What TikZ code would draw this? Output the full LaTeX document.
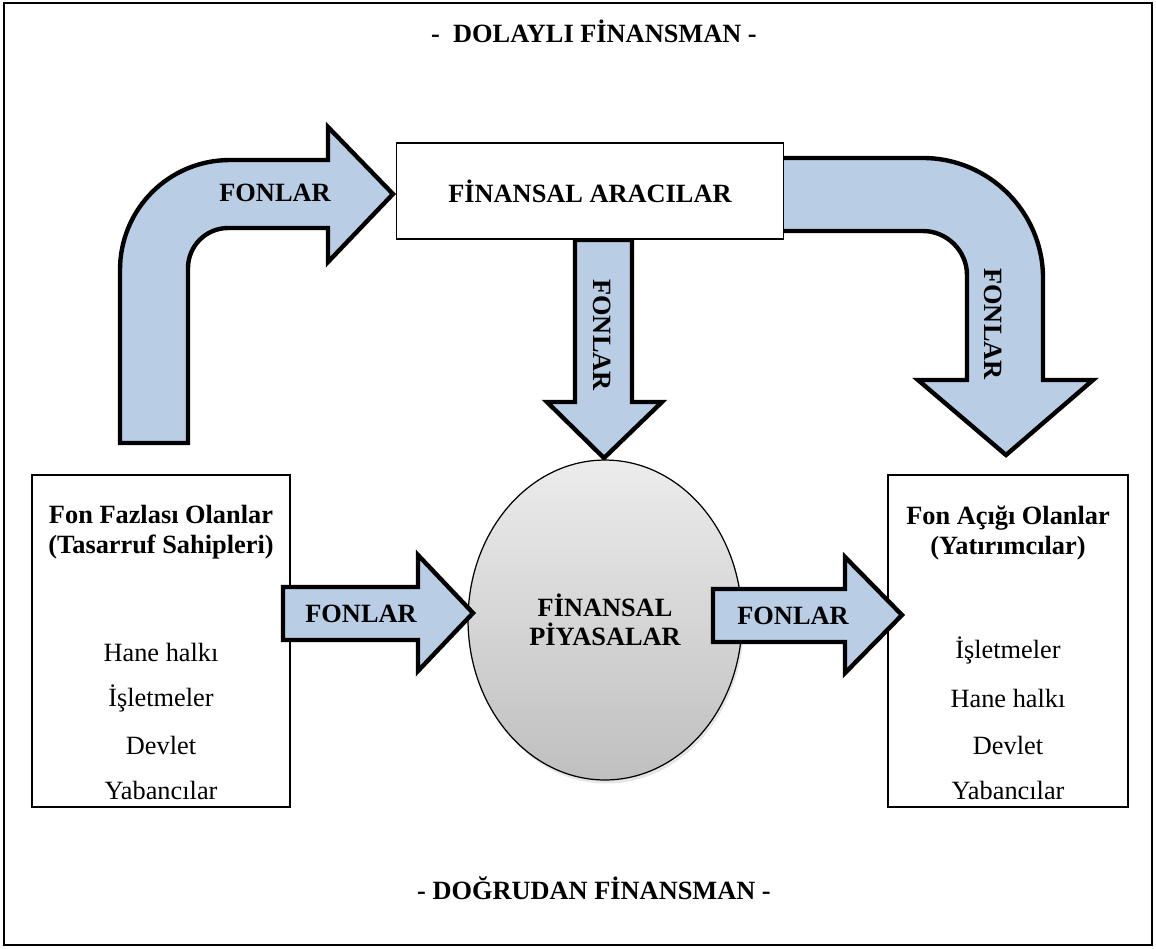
\documentclass[tikz,border=0pt]{standalone}
\usepackage{fontspec}
\setmainfont{Liberation Serif}
\usetikzlibrary{shapes.geometric,shadows}
\definecolor{bleufonds}{HTML}{B9CDE5}

\begin{document}
\begin{tikzpicture}[x=0.02cm, y=-0.02cm,
  fleche/.style={draw=black, fill=bleufonds, line width=2.5pt, line join=miter},
  boite/.style={draw=black, fill=white, line width=0.9pt},
  titre/.style={font=\fontsize{15}{16.5}\selectfont\bfseries},
  texte/.style={font=\fontsize{15}{18}\selectfont}]

% Cadre
\useasboundingbox (0,0) rectangle (1156,948);
\draw[line width=1.2pt] (4,3) rectangle (1152,945);

% Titres
\node[titre] (dolayli) at (594,31) {- \ DOLAYLI FİNANSMAN -};
\node[titre] (dogrudan) at (594,888) {- DOĞRUDAN FİNANSMAN -};

% Flèches courbes
\draw[fleche] (120,443) -- (120,270) .. controls (120,209) and (169,160) .. (230,160)
  -- (328,160) -- (328,127) -- (393,194) -- (328,262) -- (328,228) -- (228,228)
  .. controls (206,228) and (188,246) .. (188,268) -- (188,443) -- cycle;
\draw[fleche] (780,158) -- (923,158) .. controls (989,158) and (1043,212) .. (1043,278)
  -- (1043,380) -- (1093,380) -- (1006,455) -- (918,380) -- (967,380) -- (967,275)
  .. controls (967,251) and (947,231) .. (923,231) -- (780,231) -- cycle;

% Flèche verticale
\draw[fleche] (575,240) -- (632,240) -- (632,402) -- (662,402) -- (604,458)
  -- (547,402) -- (575,402) -- cycle;

% Boîtes
\node[boite, titre, minimum width=7.74cm, minimum height=1.92cm] (aracilar) at (590,191) {FİNANSAL ARACILAR};
\node[boite, minimum width=5.16cm, minimum height=6.64cm] (fazla) at (161,641) {};
\node[boite, minimum width=4.8cm, minimum height=6.64cm] (acik) at (1008,641) {};

% Piyasalar
\node[ellipse, draw, line width=0.7pt, top color=gray!15, bottom color=gray!50,
  drop shadow={opacity=0.2, shadow xshift=1pt, shadow yshift=-2pt},
  minimum width=5.48cm, minimum height=6.4cm, inner sep=0pt, align=center, titre]
  (piyasa) at (605,620) {FİNANSAL\\PİYASALAR};

% Flèches horizontales
\draw[fleche] (283,587) -- (418,587) -- (418,555) -- (473,613) -- (418,671)
  -- (418,640) -- (283,640) -- cycle;
\draw[fleche] (713,589) -- (845,589) -- (845,557) -- (902,615) -- (845,673)
  -- (845,642) -- (713,642) -- cycle;

% Etiquettes des flèches
\node[titre] (fonA) at (275,193) {FONLAR};
\node[titre, rotate=-90] (fonB) at (602,335) {FONLAR};
\node[titre, rotate=-90] (fonC) at (993,324) {FONLAR};
\node[titre] (fonD) at (361,614) {FONLAR};
\node[titre] (fonE) at (793,616) {FONLAR};

% Fon fazlası olanlar
\node[titre] (fazlaA) at (161,514) {Fon Fazlası Olanlar};
\node[titre] (fazlaB) at (161,547) {(Tasarruf Sahipleri)};
\node[texte] (fazla1) at (161,652) {Hane halkı};
\node[texte] (fazla2) at (161,698) {İşletmeler};
\node[texte] (fazla3) at (161,745) {Devlet};
\node[texte] (fazla4) at (161,790) {Yabancılar};

% Fon açığı olanlar
\node[titre] (acikA) at (1008,518) {Fon Açığı Olanlar};
\node[titre] (acikB) at (1008,548) {(Yatırımcılar)};
\node[texte] (acik1) at (1008,650) {İşletmeler};
\node[texte] (acik2) at (1008,698) {Hane halkı};
\node[texte] (acik3) at (1008,745) {Devlet};
\node[texte] (acik4) at (1008,790) {Yabancılar};

\end{tikzpicture}
\end{document}
